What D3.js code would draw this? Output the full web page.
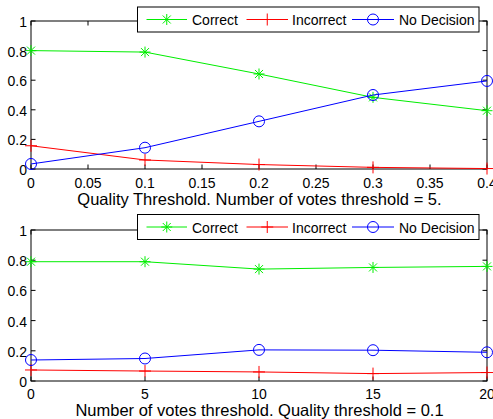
<!DOCTYPE html>
<html>
<head>
<meta charset="utf-8">
<script src="https://cdn.jsdelivr.net/npm/d3@7"></script>
<style>
  html, body { margin: 0; padding: 0; background: #fff; }
  svg { display: block; }
  text { font-family: "Liberation Sans", Arial, Helvetica, sans-serif; fill: #000; }
</style>
</head>
<body>
<svg id="chart" width="493" height="419"></svg>
<script>
// ---- Data ----
const seriesNames = ["Correct", "Incorrect", "No Decision"];

// Top panel: Quality threshold
const qualityX = [0, 0.1, 0.2, 0.3, 0.4];
const qualityCorrect = [0.80, 0.79, 0.642, 0.484, 0.394];
const qualityIncorrect = [0.157, 0.061, 0.030, 0.011, 0.003];
const qualityNoDecision = [0.034, 0.144, 0.322, 0.500, 0.595];
const qualityXTicks = [0, 0.05, 0.1, 0.15, 0.2, 0.25, 0.3, 0.35, 0.4];
const qualityXLabel = "Quality Threshold. Number of votes threshold = 5.";

// Bottom panel: Number of votes threshold
const votesX = [0, 5, 10, 15, 20];
const votesCorrect = [0.79, 0.79, 0.741, 0.752, 0.759];
const votesIncorrect = [0.073, 0.066, 0.060, 0.049, 0.056];
const votesNoDecision = [0.139, 0.149, 0.206, 0.204, 0.190];
const votesXTicks = [0, 5, 10, 15, 20];
const votesXLabel = "Number of votes threshold. Quality threshold = 0.1";

const yTicks = [0, 0.2, 0.4, 0.6, 0.8, 1];

const colors = ["#00ee00", "#ff0000", "#0000ff"];
const markers = ["star", "plus", "circle"];

const svg = d3.select("#chart");

function drawMarker(g, type, x, y, color) {
  if (type === "circle") {
    g.append("circle").attr("cx", x).attr("cy", y).attr("r", 5.5)
      .attr("fill", "none").attr("stroke", color).attr("stroke-width", 1);
  } else if (type === "plus") {
    const h = 6;
    g.append("line").attr("x1", x - h).attr("x2", x + h).attr("y1", y).attr("y2", y)
      .attr("stroke", color).attr("stroke-width", 1);
    g.append("line").attr("x1", x).attr("x2", x).attr("y1", y - h).attr("y2", y + h)
      .attr("stroke", color).attr("stroke-width", 1);
  } else if (type === "star") {
    const h = 5.5, d = 4;
    [[-h, 0, h, 0], [0, -h, 0, h], [-d, -d, d, d], [-d, d, d, -d]].forEach(s => {
      g.append("line").attr("x1", x + s[0]).attr("y1", y + s[1])
        .attr("x2", x + s[2]).attr("y2", y + s[3])
        .attr("stroke", color).attr("stroke-width", 1);
    });
  }
}

function panel(opts) {
  const { xs, series, xTicks, xDomain, xLabel, left, right, top, bottom,
          tickFmt, tickDy, labelDy, legendY } = opts;
  const g = svg.append("g");
  const x = d3.scaleLinear().domain(xDomain).range([left, right]);
  const y = d3.scaleLinear().domain([0, 1]).range([bottom, top]);

  // frame
  g.append("rect").attr("x", left).attr("y", top)
    .attr("width", right - left).attr("height", bottom - top)
    .attr("fill", "none").attr("stroke", "#000").attr("stroke-width", 1);

  // x ticks (inside, bottom and top)
  const tl = 4.5;
  xTicks.forEach(t => {
    const px = x(t);
    g.append("line").attr("x1", px).attr("x2", px).attr("y1", bottom).attr("y2", bottom - tl)
      .attr("stroke", "#000");
    g.append("line").attr("x1", px).attr("x2", px).attr("y1", top).attr("y2", top + tl)
      .attr("stroke", "#000");
    g.append("text").attr("x", px).attr("y", bottom + tickDy)
      .attr("text-anchor", "middle").attr("dominant-baseline", "central")
      .attr("font-size", 14).text(tickFmt(t));
  });
  yTicks.forEach(t => {
    const py = y(t);
    g.append("line").attr("x1", left).attr("x2", left + tl).attr("y1", py).attr("y2", py)
      .attr("stroke", "#000");
    g.append("line").attr("x1", right).attr("x2", right - tl).attr("y1", py).attr("y2", py)
      .attr("stroke", "#000");
    g.append("text").attr("x", left - 4).attr("y", py + 1)
      .attr("text-anchor", "end").attr("dominant-baseline", "central")
      .attr("font-size", 14).text(d3.format("")(t));
  });

  // x label
  g.append("text").attr("x", (left + right) / 2 + 0.5).attr("y", bottom + labelDy)
    .attr("text-anchor", "middle").attr("dominant-baseline", "central")
    .attr("font-size", 16.5).text(xLabel);

  // series
  const line = d3.line().x((d, i) => x(xs[i])).y(d => y(d));
  series.forEach((vals, k) => {
    g.append("path").attr("d", line(vals)).attr("fill", "none")
      .attr("stroke", colors[k]).attr("stroke-width", 1);
    vals.forEach((v, i) => drawMarker(g, markers[k], x(xs[i]), y(v), colors[k]));
  });

  // legend
  const lg = g.append("g");
  const lx0 = 137.5, lx1 = 479, ly0 = legendY, ly1 = legendY + 25;
  lg.append("rect").attr("x", lx0).attr("y", ly0).attr("width", lx1 - lx0).attr("height", ly1 - ly0)
    .attr("fill", "#fff").attr("stroke", "#000").attr("stroke-width", 1);
  const entries = [
    { l0: 146.5, l1: 187, t: 192 },
    { l0: 246.5, l1: 288, t: 292 },
    { l0: 352, l1: 394, t: 399 }
  ];
  const cy = (ly0 + ly1) / 2;
  entries.forEach((e, k) => {
    lg.append("line").attr("x1", e.l0).attr("x2", e.l1).attr("y1", cy).attr("y2", cy)
      .attr("stroke", colors[k]).attr("stroke-width", 1);
    drawMarker(lg, markers[k], (e.l0 + e.l1) / 2, cy, colors[k]);
    lg.append("text").attr("x", e.t).attr("y", cy + 0.5)
      .attr("dominant-baseline", "central").attr("font-size", 14).text(seriesNames[k]);
  });
}

panel({
  xs: qualityX,
  series: [qualityCorrect, qualityIncorrect, qualityNoDecision],
  xTicks: qualityXTicks, xDomain: [0, 0.4], xLabel: qualityXLabel,
  left: 31, right: 487, top: 21, bottom: 169,
  tickFmt: d3.format(""), tickDy: 14, labelDy: 30, legendY: 7
});

panel({
  xs: votesX,
  series: [votesCorrect, votesIncorrect, votesNoDecision],
  xTicks: votesXTicks, xDomain: [0, 20], xLabel: votesXLabel,
  left: 31, right: 487, top: 230, bottom: 381,
  tickFmt: d3.format(""), tickDy: 12.5, labelDy: 29, legendY: 214.5
});
</script>
</body>
</html>
